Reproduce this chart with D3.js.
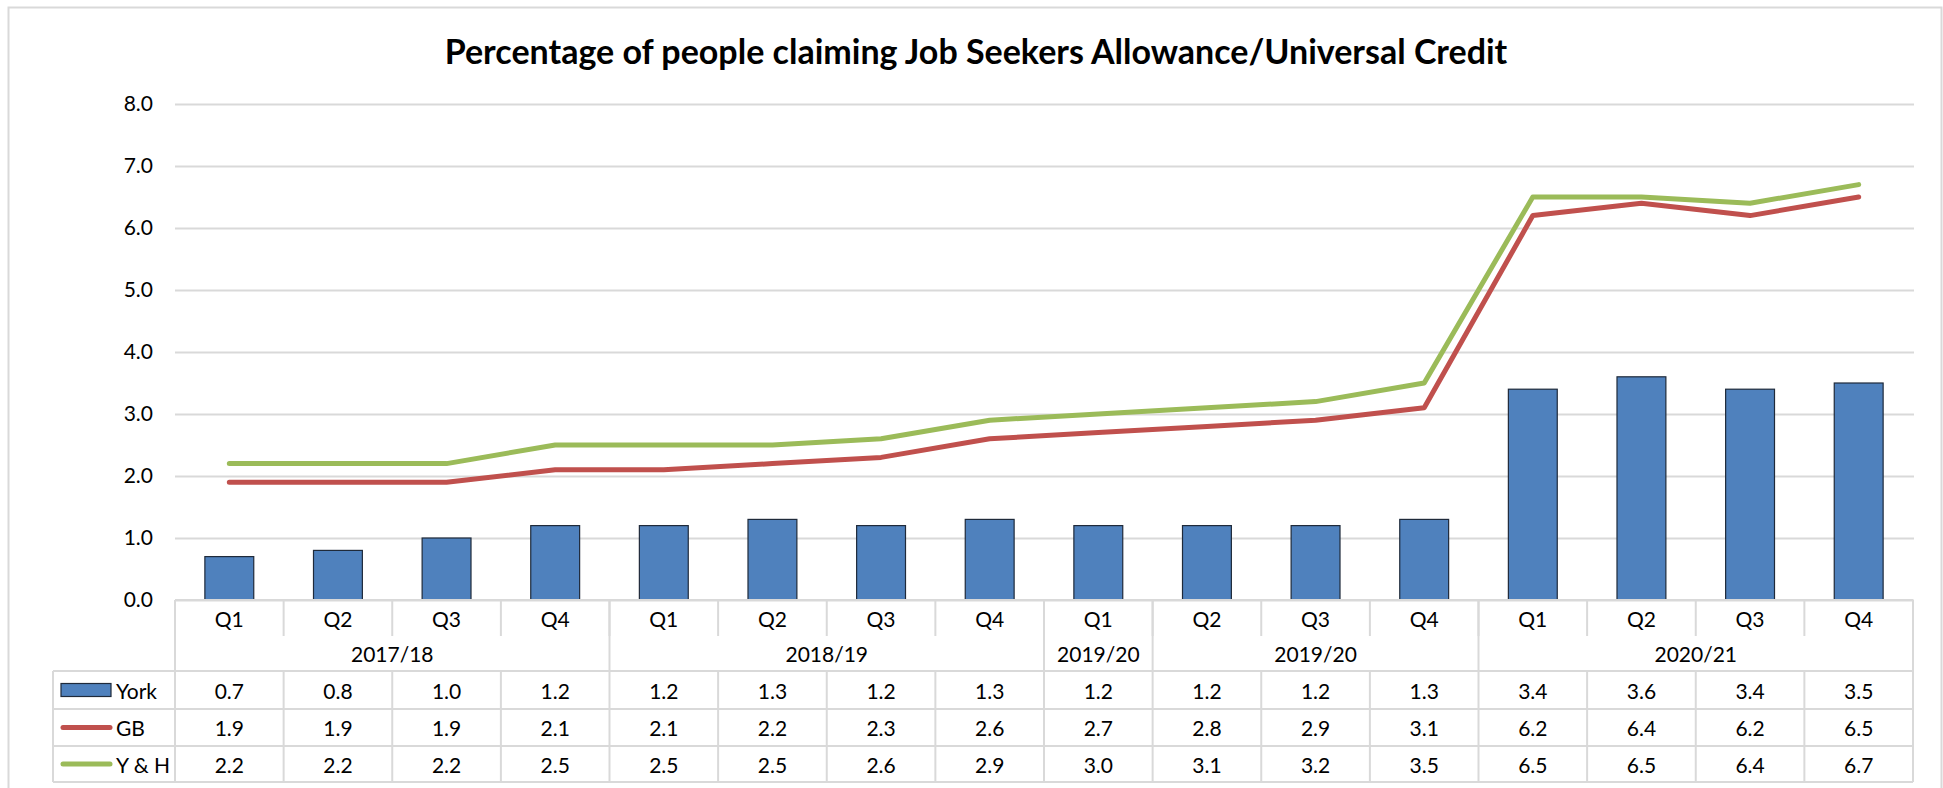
<!DOCTYPE html>
<html>
<head>
<meta charset="utf-8">
<script src="https://cdn.jsdelivr.net/npm/d3@7"></script>
<style>
  html, body { margin: 0; padding: 0; background: #fff; }
  svg { display: block; }
  text { font-family: Lato, "Open Sans", sans-serif; fill: #000; }
</style>
</head>
<body>
<svg id="chart" width="1943" height="788"></svg>
<script>
// ---- data ----
const quarters = ["Q1","Q2","Q3","Q4","Q1","Q2","Q3","Q4","Q1","Q2","Q3","Q4","Q1","Q2","Q3","Q4"];
const yearGroups = ["2017/18","2018/19","2019/20","2019/20","2020/21"];
const yearGroupSizes = [4,4,1,3,4];
const york = [0.7,0.8,1.0,1.2,1.2,1.3,1.2,1.3,1.2,1.2,1.2,1.3,3.4,3.6,3.4,3.5];
const gb   = [1.9,1.9,1.9,2.1,2.1,2.2,2.3,2.6,2.7,2.8,2.9,3.1,6.2,6.4,6.2,6.5];
const yh   = [2.2,2.2,2.2,2.5,2.5,2.5,2.6,2.9,3.0,3.1,3.2,3.5,6.5,6.5,6.4,6.7];
const yTicks = [0,1,2,3,4,5,6,7,8];
const seriesNames = ["York","GB","Y & H"];
const chartTitle = "Percentage of people claiming Job Seekers Allowance/Universal Credit";

// ---- layout ----
const pL = 175, pR = 1913, pT = 104, pB = 600;
const C = { bar: "#4f81bd", barStroke: "#1f2a3a", gb: "#c0504d", yh: "#9bbb59", grid: "#d9d9d9" };
const FS = 21;

const svg = d3.select("#chart");

// outer chart border
svg.append("rect").attr("x", 8.5).attr("y", 7.5).attr("width", 1933).attr("height", 800)
  .attr("fill", "#fff").attr("stroke", C.grid).attr("stroke-width", 2);

// title
svg.append("text").attr("x", 976).attr("y", 64).attr("text-anchor", "middle")
  .style("font-weight", "bold").style("font-size", "34px").text(chartTitle);

const idx = d3.range(quarters.length);
const x = d3.scaleBand().domain(idx).range([pL, pR]).padding(0);
const y = d3.scaleLinear().domain([0, 8]).range([pB, pT]);
const bw = x.bandwidth();

// y axis + gridlines
const yAxis = d3.axisLeft(y).tickValues(yTicks).tickFormat(d3.format(".1f"))
  .tickSize(-(pR - pL + 1)).tickPadding(22);
const ga = svg.append("g").attr("transform", `translate(${pL},0)`).call(yAxis);
ga.select(".domain").remove();
ga.selectAll(".tick line").attr("stroke", C.grid).attr("stroke-width", 2);
ga.selectAll(".tick text").style("font-size", FS + "px").style("font-family", "Lato, sans-serif").attr("fill", "#000");

// bars
const barW = bw * 0.45;
svg.append("g").selectAll("rect").data(york).join("rect")
  .attr("x", (d, i) => x(i) + (bw - barW) / 2)
  .attr("y", d => y(d))
  .attr("width", barW)
  .attr("height", d => pB - y(d))
  .attr("fill", C.bar).attr("stroke", C.barStroke).attr("stroke-width", 1.2);

// lines
const line = d3.line().x((d, i) => x(i) + bw / 2).y(d => y(d));
[[gb, C.gb], [yh, C.yh]].forEach(([data, col]) => {
  svg.append("path").datum(data).attr("d", line).attr("fill", "none")
    .attr("stroke", col).attr("stroke-width", 5).attr("stroke-linecap", "round").attr("stroke-linejoin", "round");
});

// ---- data table ----
const tg = svg.append("g");
const rowQ = [600, 636], rowYear = [636, 671];
const dataRows = [[671, 709], [709, 746], [746, 782]];
const legendLeft = 53;
const gridLine = (x1, y1, x2, y2) => tg.append("line").attr("x1", x1).attr("y1", y1).attr("x2", x2).attr("y2", y2)
  .attr("stroke", C.grid).attr("stroke-width", 2);

gridLine(pL, rowQ[0], pR, rowQ[0]);
gridLine(legendLeft, dataRows[0][0], pR, dataRows[0][0]);
dataRows.forEach(r => gridLine(legendLeft, r[1], pR, r[1]));
idx.forEach(i => {
  if (i > 0) {
    gridLine(x(i), rowQ[0], x(i), rowQ[1]);
    gridLine(x(i), dataRows[0][0], x(i), dataRows[2][1]);
  }
});
gridLine(pL, rowQ[0], pL, dataRows[2][1]);
gridLine(pR, rowQ[0], pR, dataRows[2][1]);
gridLine(legendLeft, dataRows[0][0], legendLeft, dataRows[2][1]);
let acc = 0;
const groups = yearGroups.map((g, k) => { const s = acc; acc += yearGroupSizes[k]; return { label: g, start: s, end: acc }; });
groups.forEach(g => { if (g.end < quarters.length) gridLine(x(g.end), rowQ[0], x(g.end), rowYear[1]); });

tg.selectAll("text.q").data(quarters).join("text").attr("class", "q")
  .attr("x", (d, i) => x(i) + bw / 2).attr("y", (rowQ[0] + rowQ[1]) / 2)
  .attr("text-anchor", "middle").attr("dominant-baseline", "central")
  .style("font-size", FS + "px").text(d => d);
tg.selectAll("text.yr").data(groups).join("text").attr("class", "yr")
  .attr("x", g => (x(g.start) + (g.end < quarters.length ? x(g.end) : pR)) / 2)
  .attr("y", (rowYear[0] + rowYear[1]) / 2)
  .attr("text-anchor", "middle").attr("dominant-baseline", "central")
  .style("font-size", FS + "px").text(g => g.label);
[york, gb, yh].forEach((vals, r) => {
  const cy = (dataRows[r][0] + dataRows[r][1]) / 2;
  tg.append("g").selectAll("text").data(vals).join("text")
    .attr("x", (d, i) => x(i) + bw / 2).attr("y", cy)
    .attr("text-anchor", "middle").attr("dominant-baseline", "central")
    .style("font-size", FS + "px").text(d => d3.format(".1f")(d));
});
const keyX1 = 61, keyX2 = 111;
seriesNames.forEach((name, r) => {
  const cy = (dataRows[r][0] + dataRows[r][1]) / 2;
  if (r === 0) {
    tg.append("rect").attr("x", keyX1).attr("y", cy - 6.5).attr("width", keyX2 - keyX1).attr("height", 13)
      .attr("fill", C.bar).attr("stroke", C.barStroke).attr("stroke-width", 1.2);
  } else {
    tg.append("line").attr("x1", keyX1 + 2).attr("x2", keyX2 - 1).attr("y1", cy).attr("y2", cy)
      .attr("stroke", r === 1 ? C.gb : C.yh).attr("stroke-width", 5).attr("stroke-linecap", "round");
  }
  tg.append("text").attr("x", 116).attr("y", cy).attr("dominant-baseline", "central")
    .style("font-size", FS + "px").text(name);
});
</script>
</body>
</html>
